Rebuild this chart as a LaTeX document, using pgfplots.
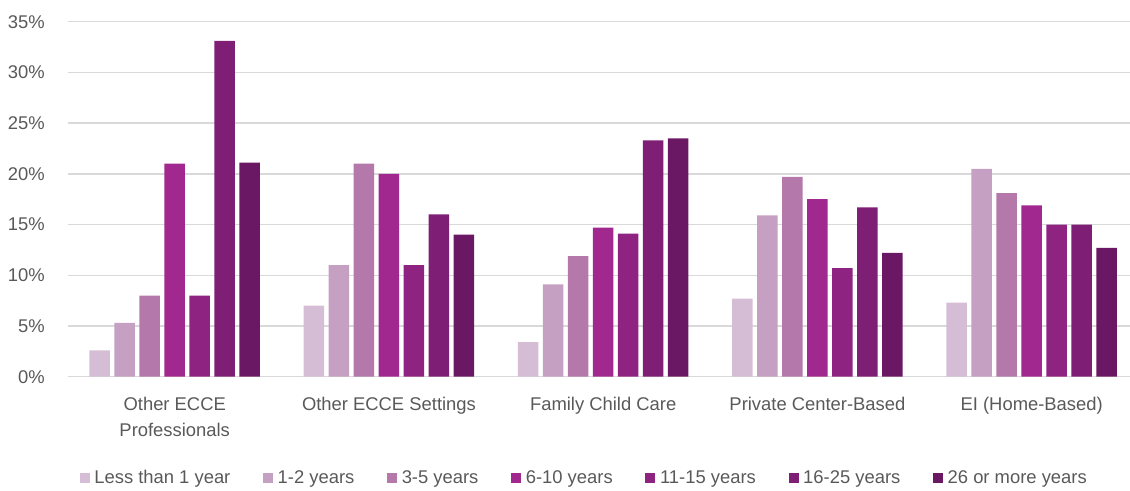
\documentclass[border=0pt]{standalone}
\usepackage{pgfplots}
\usepackage{pgfplotstable}
\pgfplotsset{compat=1.18}
\usepackage{fontspec}
\setmainfont{Liberation Sans}
\definecolor{txt}{HTML}{595959}
\definecolor{grd}{HTML}{D9D9D9}
\definecolor{c1}{HTML}{D6BDD6}
\definecolor{c2}{HTML}{C6A0C2}
\definecolor{c3}{HTML}{B478AA}
\definecolor{c4}{HTML}{A0288F}
\definecolor{c5}{HTML}{8E2382}
\definecolor{c6}{HTML}{7E1E74}
\definecolor{c7}{HTML}{6B1864}
\pgfplotstableread{
g s1 s2 s3 s4 s5 s6 s7
0 2.6 5.3 8.0 21.0 8.0 33.1 21.1
1 7.0 11.0 21.0 20.0 11.0 16.0 14.0
2 3.4 9.1 11.9 14.7 14.1 23.3 23.5
3 7.7 15.9 19.7 17.5 10.7 16.7 12.2
4 7.3 20.5 18.1 16.9 15.0 15.0 12.7
}\datatable
\pgfplotsset{legsq/.style={legend image code/.code={\fill[##1] (0pt,-3.75pt) rectangle (7.5pt,3.75pt);}}}
\begin{document}
\begin{tikzpicture}
\useasboundingbox (0,0) rectangle (847.5pt,368.25pt);
\begin{axis}[
  at={(50.7pt,85.7pt)}, anchor=south west,
  scale only axis, width=803.4pt, height=266.25pt,
  ybar=3.35pt, bar width=15.4pt,
  xmin=-0.5, xmax=4.5, ymin=0, ymax=35,
  enlarge x limits=false, enlarge y limits=false,
  xtick={0,1,2,3,4},
  xticklabels={{Other ECCE\\Professionals},{Other ECCE Settings},{Family Child Care},{Private Center-Based},{EI (Home-Based)}},
  ytick={0,5,...,35},
  yticklabel={\pgfmathprintnumber{\tick}\%},
  /pgf/number format/assume math mode=true,
  axis line style={draw=none},
  tick style={draw=none}, major tick length=0pt,
  ymajorgrids, grid style={grd, line width=1pt},
  tick label style={font=\fontsize{13.8pt}{20pt}\selectfont, text=txt},
  yticklabel style={anchor=east, inner sep=0pt, xshift=-17pt},
  xticklabel style={anchor=north, inner sep=0pt, yshift=-15pt, align=center},
  legend columns=7,
  legend style={draw=none, fill=none, at={(axis description cs:0.4826,-0.2853)}, anchor=center,
    font=\fontsize{13.8pt}{16pt}\selectfont, text=txt,
    /tikz/every odd column/.append style={column sep=1.5pt},
    /tikz/every even column/.append style={column sep=22.5pt}},
  legend cell align=left,
]
\addplot[fill=c1, draw=none, legsq] table[x=g, y=s1] {\datatable};
\addplot[fill=c2, draw=none, legsq] table[x=g, y=s2] {\datatable};
\addplot[fill=c3, draw=none, legsq] table[x=g, y=s3] {\datatable};
\addplot[fill=c4, draw=none, legsq] table[x=g, y=s4] {\datatable};
\addplot[fill=c5, draw=none, legsq] table[x=g, y=s5] {\datatable};
\addplot[fill=c6, draw=none, legsq] table[x=g, y=s6] {\datatable};
\addplot[fill=c7, draw=none, legsq] table[x=g, y=s7] {\datatable};
\legend{Less than 1 year, 1-2 years, 3-5 years, 6-10 years, 11-15 years, 16-25 years, 26 or more years}
\end{axis}
\end{tikzpicture}
\end{document}
